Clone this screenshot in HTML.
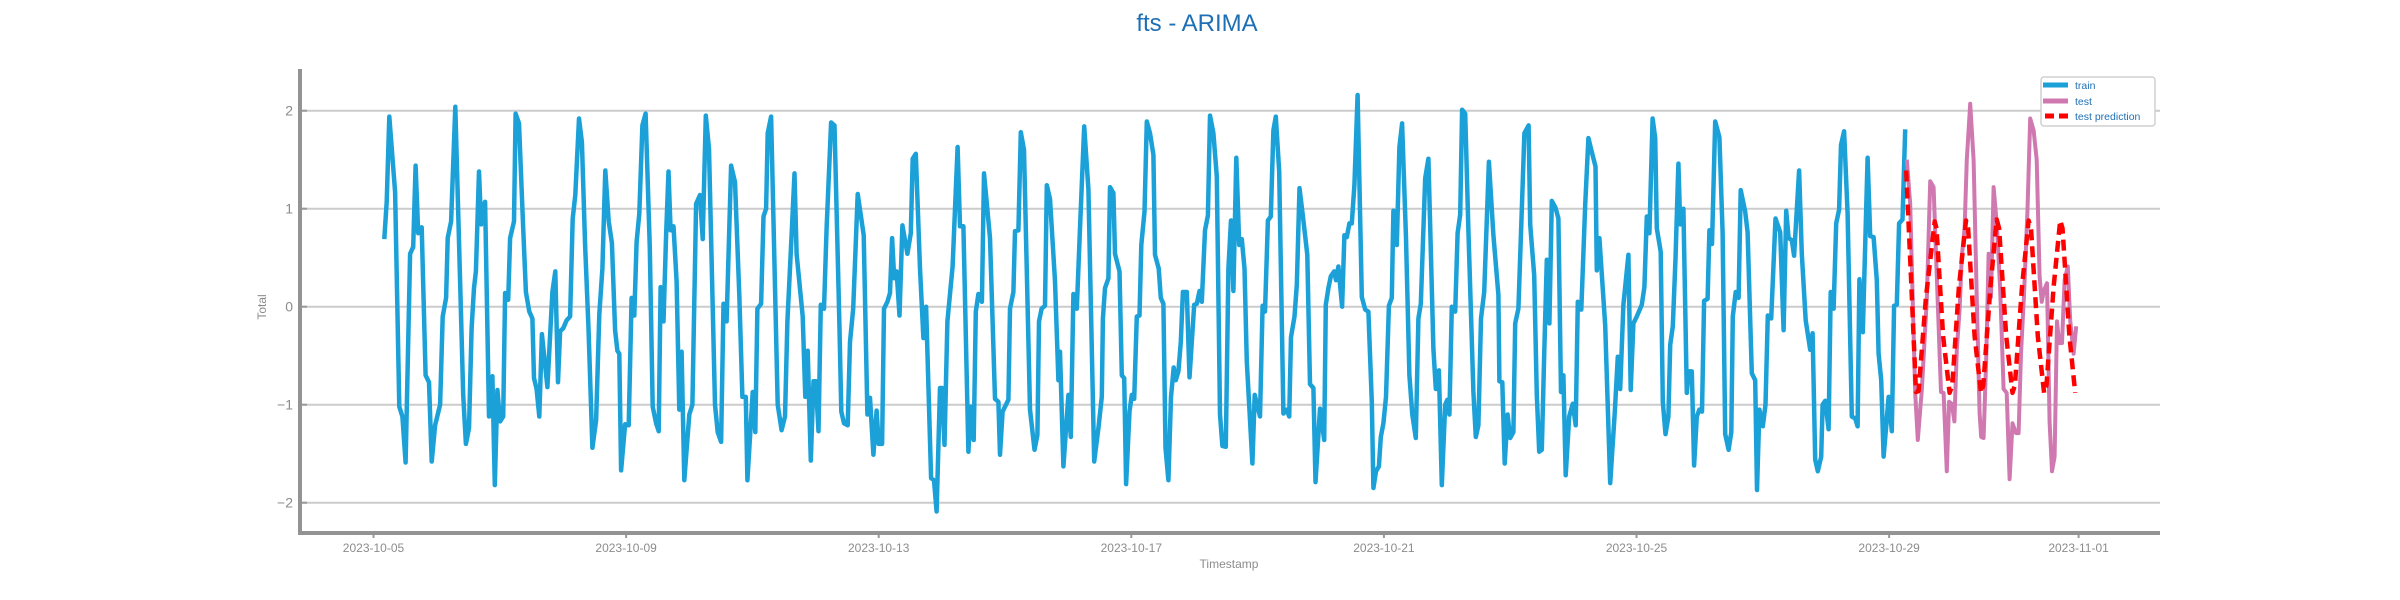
<!DOCTYPE html>
<html><head><meta charset="utf-8"><style>
html,body{margin:0;padding:0;background:#fff;}
svg{display:block;font-family:"Liberation Sans","DejaVu Sans",sans-serif;}
</style></head><body>
<svg id="chart" width="2400" height="600" viewBox="0 0 2400 600" xmlns="http://www.w3.org/2000/svg">
<text x="1197" y="31" text-anchor="middle" font-size="24" fill="#1f6fb5">fts - ARIMA</text>
<g id="grid"></g>
<g id="series"></g>
<g id="axes"></g>
<text transform="translate(266,307) rotate(-90)" text-anchor="middle" font-size="12" fill="#8c8c8c">Total</text>
<text x="1229" y="568" text-anchor="middle" font-size="12" fill="#8c8c8c">Timestamp</text>
<g>
<rect x="2041" y="77" width="114" height="49" rx="3" fill="#fff" stroke="#d0d0d0" stroke-width="1.5"/>
<line x1="2043" y1="85" x2="2068" y2="85" stroke="#1ba1d8" stroke-width="5"/>
<text x="2075" y="89" font-size="10.5" fill="#1f6fb5">train</text>
<line x1="2043" y1="101" x2="2068" y2="101" stroke="#cf79b0" stroke-width="5"/>
<text x="2075" y="105" font-size="10.5" fill="#1f6fb5">test</text>
<line x1="2045" y1="116" x2="2068" y2="116" stroke="#ff0000" stroke-width="5" stroke-dasharray="9,5"/>
<text x="2075" y="120" font-size="10.5" fill="#1f6fb5">test prediction</text>
</g>
</svg>
<script>
// hours since 2023-10-05 00:00
const trainT=[4.1,5.0,6.0,8.2,9.8,11.0,12.2,13.9,15.1,16.0,17.0,18.3,19.8,21.1,22.1,23.4,25.3,26.3,27.6,28.2,29.5,31.1,32.9,34.1,35.1,36.3,37.3,38.2,38.9,40.1,40.9,41.4,42.4,43.9,45.2,46.1,47.1,48.1,49.3,50.0,51.2,51.9,53.4,54.0,55.3,56.9,57.9,59.2,60.4,61.0,62.0,63.0,64.0,66.1,68.0,69.1,70.1,70.9,72.1,73.4,74.7,75.7,76.7,78.1,79.2,80.4,81.7,83.2,84.6,85.8,87.0,88.1,89.4,90.6,91.8,92.7,93.4,94.1,95.6,97.0,98.1,99.1,100.0,101.0,102.2,103.4,105.0,106.1,107.4,108.4,109.1,109.8,110.2,111.2,112.1,112.9,114.0,115.2,116.2,117.1,118.1,120.0,121.2,122.6,124.1,125.1,126.3,127.5,129.8,130.8,132.1,133.0,134.2,135.9,137.4,139.0,140.2,141.5,142.1,144.1,145.1,145.9,147.3,148.2,149.2,149.8,151.1,153.6,155.1,156.4,157.3,158.9,160.0,160.8,163.1,164.1,165.0,166.2,167.2,168.1,169.1,170.0,171.2,172.2,173.9,175.2,177.1,177.8,178.8,180.2,181.1,182.3,184.0,186.3,187.7,188.7,190.0,191.2,192.0,193.3,194.0,195.3,196.3,197.1,197.9,198.8,199.9,201.0,202.0,202.9,204.2,204.9,206.1,207.7,209.0,210.0,211.9,213.0,214.0,215.3,216.0,217.0,218.1,220.1,222.0,222.9,224.2,226.1,227.0,228.1,228.9,229.9,231.2,232.0,234.3,236.2,237.5,238.1,239.1,241.3,241.9,243.2,243.8,245.1,246.0,247.2,249.5,251.2,252.3,252.9,253.9,255.2,255.9,257.1,259.0,260.3,260.9,262.2,264.1,265.0,266.0,267.3,268.5,270.1,271.7,273.9,275.5,276.8,277.2,278.0,279.3,279.9,281.2,281.8,283.5,284.4,285.3,286.0,287.3,288.2,289.1,290.1,291.1,291.8,293.0,293.9,295.1,296.4,297.0,298.4,299.2,300.2,301.0,302.1,303.1,304.1,304.9,305.9,306.8,307.6,309.1,310.1,311.9,312.9,313.9,314.8,316.0,317.1,317.9,319.2,320.5,321.7,322.6,323.9,324.9,325.9,326.8,327.9,329.0,330.0,331.0,331.9,334.0,334.9,336.9,337.9,338.8,339.9,341.0,342.0,342.9,344.2,345.8,347.1,348.0,348.7,350.0,350.9,351.9,353.4,354.9,355.9,357.2,358.0,359.7,361.3,361.9,362.9,363.8,365.1,365.8,366.7,368.1,369.0,369.9,370.9,371.8,372.8,374.0,375.6,376.9,378.1,379.4,380.0,381.0,382.1,382.8,383.8,384.8,385.9,387.0,387.6,388.9,389.9,390.9,392.4,393.7,394.8,396.1,397.1,398.0,399.7,400.9,402.8,403.7,404.9,406.0,407.3,408.1,408.9,409.8,411.1,412.0,413.0,413.7,414.9,416.1,418.0,418.9,419.9,420.9,422.1,423.9,425.6,427.5,427.9,429.0,429.9,431.0,432.0,433.2,433.9,435.1,436.4,437.4,439.0,439.6,441.1,442.1,443.0,444.0,444.9,445.9,446.9,447.8,449.2,450.3,451.3,452.2,453.1,454.4,455.8,456.9,457.7,459.0,460.5,461.7,463.0,464.4,464.9,465.9,468.1,470.0,471.7,472.9,473.8,475.0,476.9,477.8,478.8,480.1,482.0,483.0,483.9,484.9,486.1,487.1,487.7,489.2,490.0,491.0,492.1,492.8,493.8,494.8,495.9,496.6,497.8,499.1,499.8,501.0,501.9,502.9,503.9,504.9,505.7,507.0,507.7,508.7,509.9,511.5,512.7,513.7,515.0,516.0,516.6,517.7,518.8,519.6,521.3,522.2,523.8,525.1,525.8,526.7,528.0,529.0,529.9,531.2,532.8,534.6,535.9,536.9,537.8,539.0,539.9,541.8,542.8,544.3,546.0,546.9,547.9,548.9,550.2,550.7,551.7,553.0,553.8,554.9,555.9,557.0,557.7,558.9,560.2,561.8,563.1,564.0,564.7,566.0,567.8,568.8,570.1,571.3,572.0,573.0,573.9,574.9,575.8,577.0,577.9,578.9,579.8,581.1,582.1];
const trainV=[0.69,1.07,1.94,1.17,-1.02,-1.12,-1.59,0.54,0.61,1.44,0.75,0.81,-0.70,-0.77,-1.58,-1.21,-1.00,-0.10,0.09,0.70,0.87,2.04,0.26,-0.90,-1.40,-1.24,-0.22,0.19,0.36,1.38,0.84,1.00,1.07,-1.12,-0.71,-1.82,-0.85,-1.17,-1.12,0.14,0.07,0.70,0.87,1.97,1.87,0.80,0.15,-0.05,-0.12,-0.73,-0.84,-1.12,-0.28,-0.82,0.15,0.36,-0.77,-0.25,-0.22,-0.14,-0.10,0.90,1.14,1.92,1.68,0.63,-0.22,-1.44,-1.16,-0.08,0.39,1.39,0.87,0.65,-0.24,-0.45,-0.48,-1.67,-1.20,-1.21,0.09,-0.09,0.66,0.95,1.85,1.97,0.60,-1.02,-1.19,-1.27,0.20,0.19,-0.15,0.73,1.38,0.78,0.82,0.26,-1.05,-0.46,-1.77,-1.10,-1.00,1.05,1.14,0.69,1.95,1.61,-1.00,-1.28,-1.38,0.03,-0.15,1.44,1.27,0.12,-0.92,-0.92,-1.77,-0.87,-1.28,-0.02,0.03,0.92,1.00,1.77,1.94,-1.00,-1.26,-1.12,-0.15,0.73,1.36,0.54,-0.10,-0.92,-0.45,-1.57,-0.76,-0.76,-1.27,0.02,-0.02,0.80,1.88,1.85,-0.22,-1.07,-1.19,-1.21,-0.36,-0.02,1.15,0.73,-1.10,-0.93,-1.51,-1.06,-1.40,-1.40,-0.02,0.05,0.14,0.70,0.29,0.36,-0.09,0.83,0.68,0.54,0.75,1.51,1.56,0.39,-0.32,0.00,-1.75,-1.77,-2.09,-0.83,-0.83,-1.41,-0.15,0.41,1.63,0.82,0.82,-1.48,-1.02,-1.36,-0.05,0.13,0.05,1.36,0.70,-0.94,-0.97,-1.51,-1.07,-0.95,-0.02,0.15,0.77,0.78,1.78,1.60,-1.05,-1.46,-1.31,-0.15,-0.02,0.01,1.24,1.10,0.26,-0.75,-0.46,-1.63,-0.90,-1.33,0.13,-0.02,0.80,1.84,1.20,-1.58,-1.24,-0.92,-0.12,0.19,0.29,1.22,1.16,0.54,0.36,-0.70,-0.73,-1.81,-1.07,-0.90,-0.94,-0.10,-0.09,0.63,0.97,1.89,1.77,1.55,0.53,0.39,0.09,0.03,-1.44,-1.77,-0.92,-0.62,-0.75,-0.66,-0.36,0.15,0.15,-0.72,0.02,0.03,0.16,0.05,0.78,0.93,1.95,1.77,1.33,-1.10,-1.42,-1.43,0.39,0.88,0.16,1.52,0.63,0.69,0.39,-0.56,-1.60,-0.90,-1.12,0.01,-0.05,0.88,0.92,1.80,1.94,1.38,-1.09,-1.05,-1.12,-0.31,-0.10,0.22,1.21,0.88,0.53,-0.79,-0.83,-1.79,-1.04,-1.36,0.02,0.19,0.31,0.36,0.27,0.41,0.00,0.73,0.71,0.85,0.85,1.24,2.16,0.10,-0.03,-0.05,-0.97,-1.85,-1.68,-1.63,-1.33,-1.19,-0.92,0.01,0.09,0.98,0.63,1.63,1.87,0.70,-0.70,-1.10,-1.34,-0.12,0.03,1.31,1.51,-0.43,-0.84,-0.65,-1.82,-1.00,-0.95,-1.10,0.00,-0.05,0.75,0.94,2.01,1.97,0.78,-0.87,-1.33,-1.21,-0.12,0.15,1.48,0.73,0.12,-0.76,-0.77,-1.60,-1.10,-1.34,-1.28,-0.17,-0.02,0.99,1.77,1.85,0.84,0.32,-0.90,-1.48,-1.46,-0.49,0.48,-0.17,1.08,1.01,0.90,-0.87,-0.70,-1.72,-1.12,-0.99,-1.21,0.05,-0.03,1.04,1.72,1.58,1.43,0.37,0.70,-0.19,-1.80,-1.09,-0.51,-0.84,0.02,0.53,-0.85,-0.17,-0.10,0.02,0.20,0.92,0.75,1.92,1.72,0.80,0.56,-0.97,-1.30,-1.12,-0.39,-0.20,0.49,1.46,0.84,1.00,-0.88,-0.66,-0.66,-1.62,-1.12,-1.05,-1.07,0.06,0.08,0.78,0.64,1.89,1.73,0.76,-1.30,-1.46,-1.28,-0.10,0.15,0.09,1.19,0.97,0.76,-0.68,-0.75,-1.87,-1.05,-1.22,-1.00,-0.09,-0.12,0.90,0.76,-0.24,0.98,0.70,0.68,0.52,1.39,0.54,-0.14,-0.44,-0.27,-1.56,-1.68,-1.53,-1.00,-0.96,-1.25,0.15,-0.02,0.85,0.99,1.65,1.79,0.95,-1.12,-1.14,-1.22,0.28,-0.26,1.52,0.72,0.71,0.27,-0.48,-0.75,-1.53,-1.22,-0.92,-1.27,0.01,0.02,0.85,0.89,1.81];
const testT=[582.7,584.0,585.3,585.9,586.9,588.4,590.3,591.6,592.9,594.1,595.7,596.7,597.9,598.8,599.8,600.8,601.7,602.8,603.6,604.7,605.5,606.8,608.1,609.3,610.4,611.0,611.9,612.9,613.8,614.7,615.7,617.0,618.2,619.5,620.7,621.8,622.9,624.2,625.2,626.1,627.3,628.6,629.6,630.9,632.1,633.2,634.0,634.9,636.0,637.0,637.9,638.9,639.8,640.6,641.7,642.7,643.9,644.8,646.1,647.1];
const testV=[1.50,1.05,-0.27,-0.88,-1.36,-0.85,0.07,1.28,1.22,0.31,-0.87,-0.88,-1.68,-0.97,-0.99,-1.17,-0.44,-0.03,0.51,0.80,1.50,2.07,1.50,0.07,-1.09,-1.33,-1.34,-0.54,0.54,0.10,1.22,0.82,0.17,-0.84,-0.88,-1.76,-1.19,-1.29,-1.29,-0.48,0.14,0.99,1.92,1.80,1.50,0.31,0.05,0.17,0.24,-1.18,-1.68,-1.53,-0.15,-0.37,-0.37,0.27,0.41,-0.14,-0.48,-0.20];
const predT=[582.5,584.3,586.2,587.2,590.0,593.3,594.0,596.5,599.0,600.0,602.5,605.2,606.0,608.5,610.9,611.8,614.5,616.9,617.8,620.5,622.9,623.8,626.5,629.0,629.9,632.5,634.9,635.8,638.5,641.0,641.9,644.5,646.7];
const predV=[1.39,0.30,-0.87,-0.86,0.10,0.87,0.80,-0.30,-0.88,-0.80,0.20,0.88,0.80,-0.30,-0.88,-0.80,0.20,0.89,0.80,-0.30,-0.88,-0.80,0.20,0.88,0.80,-0.30,-0.88,-0.80,0.20,0.88,0.80,-0.30,-0.88];
const yTicks=[-2,-1,0,1,2];
const xTickDays=[0,4,8,12,16,20,24,27];
const xTickLabels=["2023-10-05","2023-10-09","2023-10-13","2023-10-17","2023-10-21","2023-10-25","2023-10-29","2023-11-01"];

const NS="http://www.w3.org/2000/svg";
const X0=300,X1=2160,Y0=69,YB=533;
function xs(h){return 373.5+h*2.6313;}
function ys(v){return 306.7-v*98;}
function mk(tag,attrs,parent){const e=document.createElementNS(NS,tag);for(const k in attrs)e.setAttribute(k,attrs[k]);parent.appendChild(e);return e;}
const grid=document.getElementById('grid'),series=document.getElementById('series'),axes=document.getElementById('axes');
yTicks.forEach(v=>{
  const l=mk('line',{x1:X0,x2:X1,y1:ys(v),y2:ys(v),stroke:'#cccccc','stroke-width':2},grid);
  
  
  const t=mk('line',{x1:X0,x2:X0+7,y1:ys(v),y2:ys(v),stroke:'#999','stroke-width':2},axes);
  
  
  const lab=mk('text',{x:293,y:ys(v)+5,'text-anchor':'end','font-size':14,fill:'#8c8c8c'},axes);
  lab.textContent=(v<0?'\u2212'+(-v):String(v));
  
  
});
xTickDays.forEach((d,i)=>{
  const x=xs(d*24);
  const t=mk('line',{x1:x,x2:x,y1:YB,y2:YB+5,stroke:'#999','stroke-width':2},axes);
  
  
  const lab=mk('text',{x:x,y:552,'text-anchor':'middle','font-size':12,fill:'#8c8c8c'},axes);
  lab.textContent=xTickLabels[i];
  
  
});
function path(T,V){return T.map((t,i)=>(i?'L':'M')+xs(t).toFixed(1)+','+ys(V[i]).toFixed(1)).join('');}
const pTrain=mk('path',{d:path(trainT,trainV),fill:'none',stroke:'#1ba1d8','stroke-width':4.5,'stroke-linejoin':'round'},series);


const pTest=mk('path',{d:path(testT,testV),fill:'none',stroke:'#cf79b0','stroke-width':4,'stroke-linejoin':'round'},series);


const pPred=mk('path',{d:path(predT,predV),fill:'none',stroke:'#ff0000','stroke-width':4.5,'stroke-dasharray':'11,6','stroke-linejoin':'round'},series);


const sl=mk('line',{x1:X0,x2:X0,y1:Y0,y2:YB+2,stroke:'#939393','stroke-width':4},axes);


const sb=mk('line',{x1:X0-2,x2:X1,y1:YB,y2:YB,stroke:'#939393','stroke-width':4},axes);


</script>
</body></html>
